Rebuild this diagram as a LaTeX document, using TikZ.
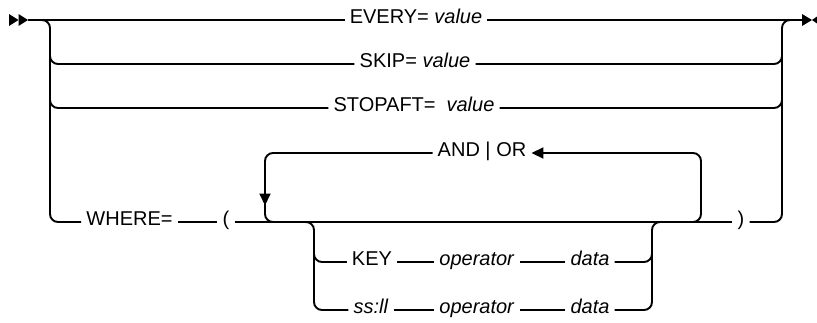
\documentclass[tikz,border=0pt]{standalone}
\usepackage{fontspec}
\setmainfont{Liberation Sans}
\usetikzlibrary{arrows.meta}
\begin{document}
\begin{tikzpicture}[x=1pt,y=-1pt,
  rr/.style={line width=1.9pt, rounded corners=8pt},
  lbl/.style={inner xsep=5pt, inner ysep=0pt, text height=0.716em, text depth=0pt,
              font=\fontsize{20}{24}\selectfont},
  tip/.style={-{Triangle[length=12pt,width=11pt]}}]
\useasboundingbox (0,0) rectangle (817,322);
% text nodes
\node[lbl] (every) at (416,20) {EVERY= \textit{value}};
\node[lbl] (skip) at (415,64) {SKIP= \textit{value}};
\node[lbl] (stop) at (414,108) {STOPAFT=\hspace{0.55em}\textit{value}};
\node[lbl] (where) at (129.5,222) {WHERE=};
\node[lbl] (lpar) at (226,222) {(};
\node[lbl] (andor) at (482,153) {AND | OR};
\node[lbl] (rpar) at (741,222) {)};
\node[lbl] (key) at (372,262) {KEY};
\node[lbl] (op1) at (477,262) {\textit{operator}};
\node[lbl] (data1) at (590,262) {\textit{data}};
\node[lbl] (ssll) at (371,310) {\textit{ss:ll}};
\node[lbl] (op2) at (477,310) {\textit{operator}};
\node[lbl] (data2) at (590,310) {\textit{data}};
% junction coordinates
\coordinate (start) at (28,20);
\coordinate (finish) at (802,20);
% start / end markers
\fill (9,14) -- (18.5,20) -- (9,26) -- cycle;
\fill (18.5,14) -- (28,20) -- (18.5,26) -- cycle;
\fill (802,14) -- (812,20) -- (802,26) -- cycle;
\fill (812,20) -- (817,16.5) -- (817,23.5) -- cycle;
% main line
\draw[rr] (start) -- (every.west);
\draw[rr] (every.east) -- (finish);
% left rail
\draw[rr] (start) -| (50,222) -- (where.west);
\draw[rr] (50,40) |- (skip.west);
\draw[rr] (50,80) |- (stop.west);
% right rail
\draw[rr] (rpar.east) -| (782,20) -- (finish);
\draw[rr] (skip.east) -| (782,40);
\draw[rr] (stop.east) -| (782,80);
% WHERE sequence
\draw[rr] (where.east) -- (lpar.west);
\draw[rr] (lpar.east) -- (rpar.west);
% repeat loop
\draw[rr,tip] (680,222) -| (701,153) -- (andor.east);
\draw[rr,tip] (andor.west) -| (265,205.5);
\draw[rr] (265,195) |- (285,222);
% KEY / ss:ll branches
\draw[rr] (300,222) -| (314,262) -- (key.west);
\draw[rr] (314,240) |- (ssll.west);
\draw[rr] (key.east) -- (op1.west);
\draw[rr] (op1.east) -- (data1.west);
\draw[rr] (ssll.east) -- (op2.west);
\draw[rr] (op2.east) -- (data2.west);
\draw[rr] (data1.east) -| (652,222) -- (668,222);
\draw[rr] (data2.east) -| (652,240);
\end{tikzpicture}
\end{document}
